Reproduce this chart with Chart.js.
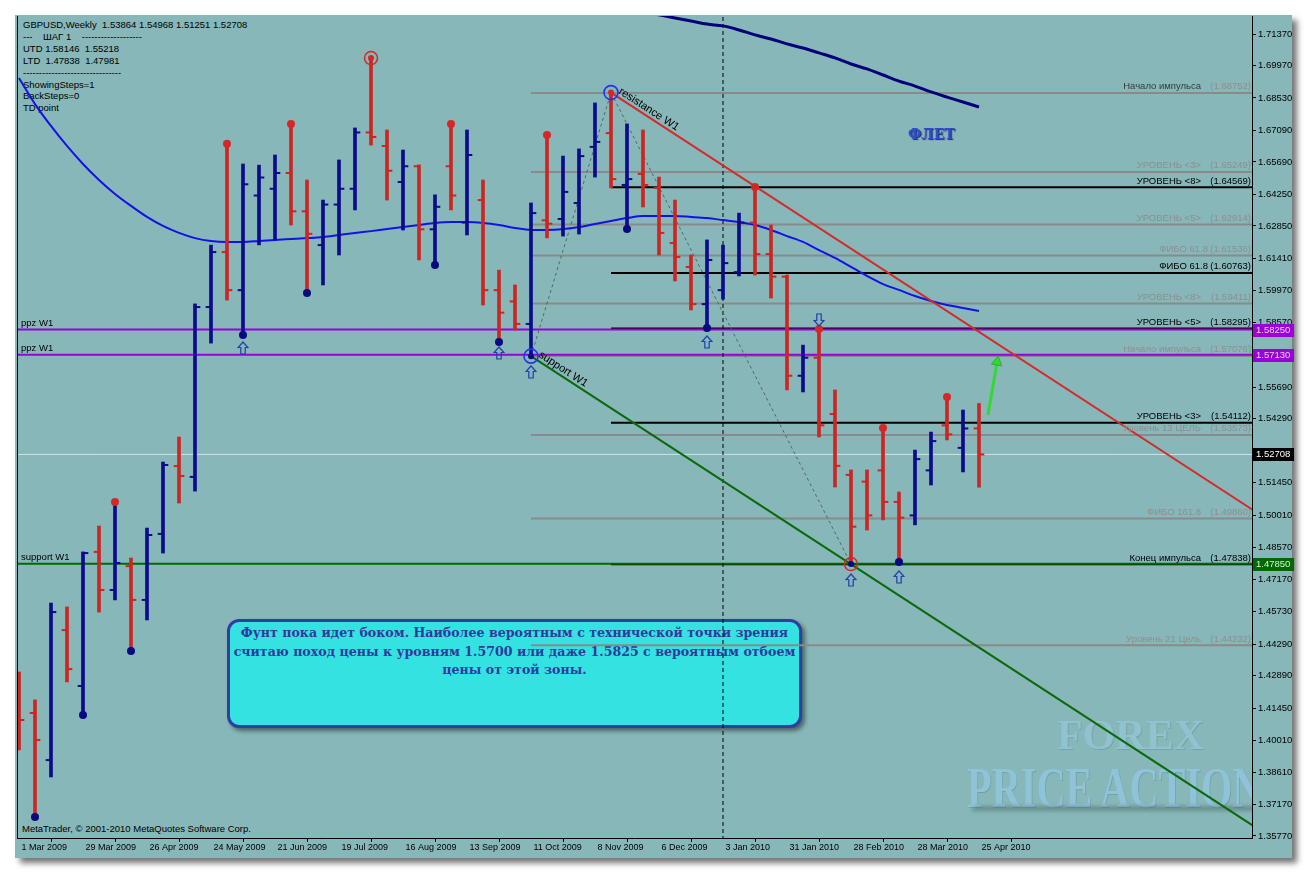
<!DOCTYPE html>
<html><head><meta charset="utf-8">
<script src="https://cdn.jsdelivr.net/npm/chart.js@4.4.1/dist/chart.umd.min.js"></script>
<style>
html,body{margin:0;padding:0;background:#fff;width:1307px;height:872px;overflow:hidden;}
#panel{position:absolute;left:15px;top:15px;width:1277px;height:843px;background:#87B7B8;box-shadow:5px 5px 6px rgba(0,0,0,0.55);}
#wm{position:absolute;left:18px;top:16px;width:1234px;height:822px;overflow:hidden;}
.wmt{position:absolute;font-family:"Liberation Serif";font-weight:bold;line-height:1;white-space:nowrap;}
#info{position:absolute;left:23px;top:19px;font:9.5px "Liberation Sans";line-height:11.9px;white-space:pre;color:#000;}
#copy{position:absolute;left:22px;top:823px;font:9.5px "Liberation Sans";color:#000;white-space:nowrap;}
#note{position:absolute;left:227px;top:619px;width:575px;height:109px;box-sizing:border-box;background:#34E2E2;border:3px solid #2F3F9E;border-radius:12px;box-shadow:3px 3px 4px rgba(0,0,0,0.45);
 font:bold 12.6px "DejaVu Serif";color:#2F3B9C;text-align:center;line-height:18.5px;padding-top:2px;white-space:nowrap;}
#flet{position:absolute;left:908px;top:126px;font:bold 14px "DejaVu Serif";color:#2C50CC;text-shadow:1px 1px 1px #1A2A70;}
canvas{position:absolute;left:0;top:0;}
</style></head>
<body>
<div id="panel"></div>
<div id="wm">
  <div class="wmt" style="left:1039px;top:698px;font-size:42px;color:#90C2D0;text-shadow:1px 1px 0 rgba(90,130,140,0.35);">FOREX</div>
  <div class="wmt" style="left:949px;top:744px;font-size:56px;color:#8EC3D8;transform:scaleX(0.72);transform-origin:0 0;text-shadow:1px 1px 0 rgba(80,120,140,0.35);">PRICE ACTION</div>
  <div style="position:absolute;left:955px;top:790px;width:285px;height:5px;background:rgba(50,70,70,0.35);filter:blur(2px);transform:skewX(-30deg);"></div>
  <div class="wmt" style="left:949px;top:777px;font-size:56px;color:#8EC3D8;opacity:0.35;transform:scaleX(0.72) scaleY(-0.5);transform-origin:0 100%;">PRICE ACTION</div>
</div>
<div id="info">GBPUSD,Weekly  1.53864 1.54968 1.51251 1.52708
---    ШАГ 1    -------------------
UTD 1.58146  1.55218
LTD  1.47838  1.47981
-------------------------------
ShowingSteps=1
BackSteps=0
TD point</div>
<div id="copy">MetaTrader, © 2001-2010 MetaQuotes Software Corp.</div>
<div id="note">Фунт пока идет боком. Наиболее вероятным с технической точки зрения<br>считаю поход цены к уровням 1.5700 или даже 1.5825 с вероятным отбоем<br>цены от этой зоны.</div>
<div id="flet">ФЛЕТ</div>
<canvas id="c" width="1307" height="872"></canvas>
<script>
// ---------------- DATA ----------------
const priceTicks = ['1.71370','1.69970','1.68530','1.67090','1.65690','1.64250','1.62850','1.61410','1.59970','1.58570','1.57130','1.55690','1.54290','1.52850','1.51450','1.50010','1.48570','1.47170','1.45730','1.44290','1.42890','1.41450','1.40010','1.38610','1.37170','1.35770'];
const dateLabels = ['1 Mar 2009','29 Mar 2009','26 Apr 2009','24 May 2009','21 Jun 2009','19 Jul 2009','16 Aug 2009','13 Sep 2009','11 Oct 2009','8 Nov 2009','6 Dec 2009','3 Jan 2010','31 Jan 2010','28 Feb 2010','28 Mar 2010','25 Apr 2010'];
const dateTickWeeks = [0,4,8,12,16,20,24,28,32,36,40,44,48,52,56,60];

const opens  = [1.4260,1.4123,1.3914,1.4491,1.4243,1.4838,1.4669,1.4775,1.4625,1.4918,1.5219,1.5171,1.5925,1.6169,1.6000,1.6420,1.6450,1.6520,1.6350,1.6200,1.6380,1.6450,1.6700,1.6640,1.6480,1.6550,1.6270,1.6550,1.6300,1.6400,1.6000,1.5950,1.5850,1.6310,1.6316,1.6387,1.6636,1.6697,1.6467,1.6516,1.6454,1.6209,1.6103,1.5938,1.6000,1.6080,1.6300,1.6160,1.6060,1.5620,1.5700,1.5450,1.5180,1.5150,1.5200,1.5060,1.5000,1.5200,1.5400,1.5300,1.53864];
const highs  = [1.4305,1.4181,1.4611,1.4594,1.4838,1.4953,1.5060,1.4811,1.4944,1.5237,1.5348,1.5939,1.6200,1.6650,1.6560,1.6555,1.6600,1.6738,1.6489,1.6400,1.6578,1.6720,1.7030,1.6711,1.6622,1.6556,1.6423,1.6738,1.6711,1.6489,1.6089,1.6023,1.6387,1.6689,1.6595,1.6627,1.6831,1.6877,1.6738,1.6711,1.6502,1.6400,1.6156,1.6223,1.6200,1.6342,1.6458,1.6289,1.6067,1.5756,1.5827,1.5557,1.5202,1.5202,1.5388,1.5104,1.5290,1.5370,1.5526,1.5468,1.54968];
const lows   = [1.3959,1.3661,1.3839,1.4261,1.4114,1.4571,1.4625,1.4398,1.4536,1.4833,1.5055,1.5108,1.5765,1.5956,1.5801,1.6201,1.6223,1.6289,1.5987,1.6023,1.6156,1.6356,1.6644,1.6400,1.6267,1.6134,1.6112,1.6356,1.6245,1.5934,1.5770,1.5823,1.5707,1.6232,1.6240,1.6249,1.6502,1.6454,1.6271,1.6369,1.6156,1.6041,1.5912,1.5832,1.5960,1.6063,1.6067,1.5965,1.5557,1.5548,1.5348,1.5126,1.4784,1.4935,1.4980,1.4793,1.4958,1.5135,1.5335,1.5193,1.51251];
const closes = [1.4092,1.4003,1.4571,1.4318,1.4833,1.4669,1.4789,1.4625,1.4913,1.5224,1.5175,1.5925,1.6169,1.6000,1.6470,1.6500,1.6520,1.6350,1.6250,1.6380,1.6450,1.6700,1.6680,1.6530,1.6550,1.6270,1.6370,1.6420,1.6600,1.6000,1.5900,1.5850,1.6342,1.6295,1.6436,1.6595,1.6658,1.6493,1.6493,1.6467,1.6254,1.6147,1.5938,1.6134,1.6120,1.6300,1.6160,1.6060,1.5620,1.5700,1.5400,1.5220,1.4950,1.5000,1.5060,1.4990,1.5250,1.5330,1.5360,1.5386,1.52708];

const fastMA = [1.6942,1.6826,1.6729,1.6640,1.6560,1.6489,1.6427,1.6374,1.6325,1.6285,1.6254,1.6231,1.6218,1.6214,1.6214,1.6218,1.6223,1.6227,1.6231,1.6236,1.6245,1.6254,1.6262,1.6271,1.6280,1.6289,1.6298,1.6302,1.6302,1.6298,1.6289,1.6276,1.6267,1.6267,1.6271,1.6280,1.6294,1.6307,1.6320,1.6329,1.6329,1.6329,1.6325,1.6320,1.6311,1.6302,1.6289,1.6267,1.6240,1.6214,1.6178,1.6143,1.6103,1.6063,1.6027,1.6001,1.5974,1.5952,1.5934,1.5921,1.5907];
const slowMAStart = 39;
const slowMA = [1.7240,1.7222,1.7208,1.7195,1.7181,1.7173,1.7155,1.7133,1.7115,1.7093,1.7075,1.7053,1.7031,1.7004,1.6982,1.6955,1.6928,1.6906,1.6880,1.6857,1.6835,1.6813];

const resistanceLine = [[37,1.6877],[77.1,1.5025]];
const supportLine    = [[32,1.5707],[77.1,1.3624]];
const zigzag         = [[32,1.5707],[37,1.6877],[52,1.4784]];

const highDotWeeks = [6,13,17,27,33,46,50,54,58];
const lowDotWeeks  = [1,4,7,14,18,26,30,38,43,55];
const blueRingHighWeeks = [37], blueRingLowWeeks = [32];
const redRingHighWeeks  = [22], redRingLowWeeks  = [52];
const upArrows   = [[14,1.5743],[30,1.5721],[32,1.5637],[43,1.5770],[52,1.4713],[55,1.4727]];
const downArrows = [[50,1.5868]];
const greenArrow = [[60.56,1.5446],[61.13,1.5681]];

const ppzLevels = [1.58250, 1.57130];
const supportLevel = 1.47850;
const currentPrice = 1.52708;
const cursorWeek = 44;
const grayLevelNames  = ['Начало импульса','УРОВЕНЬ <3>','УРОВЕНЬ <5>','ФИБО 61.8','УРОВЕНЬ <8>','Начало импульса','Уровень 13 ЦЕЛЬ','ФИБО 161.8','Уровень 21 Цель'];
const grayLevelValues = [1.68752,1.65249,1.62914,1.61536,1.59411,1.57076,1.53573,1.49860,1.44232];
const blackLevelNames  = ['УРОВЕНЬ <8>','ФИБО 61.8','УРОВЕНЬ <5>','УРОВЕНЬ <3>','Конец импульса'];
const blackLevelValues = [1.64569,1.60763,1.58295,1.54112,1.47838];
const grayLevelStart = 32, blackLevelStart = 37;

// ---------------- STYLE ----------------
const RED = '#CC2622', NAVY = '#0B0B8C';
const barColors = opens.map((o,i)=> closes[i] < o ? RED : NAVY);
const pt = (a)=>({x:a[0], y:a[1]});

function arrowImg(up){
  const c=document.createElement('canvas'); c.width=12; c.height=14;
  const g=c.getContext('2d');
  g.save(); if(!up){g.translate(0,14); g.scale(1,-1);}
  g.beginPath(); g.moveTo(6,1); g.lineTo(11,6.5); g.lineTo(8.2,6.5); g.lineTo(8.2,13); g.lineTo(3.8,13); g.lineTo(3.8,6.5); g.lineTo(1,6.5); g.closePath();
  g.strokeStyle='#1F3FA8'; g.lineWidth=1.2; g.stroke(); g.restore();
  return c;
}
const upImg = arrowImg(true), downImg = arrowImg(false);

const ds = [];
const hline = (x0,x1,v,color,w,order)=>({type:'line',data:[{x:x0,y:v},{x:x1,y:v}],borderColor:color,borderWidth:w,pointRadius:0,order});
ds.push(hline(-1,78,currentPrice,'#D6E0E0',1,100));
grayLevelValues.forEach(v=>ds.push(hline(grayLevelStart,78,v,'#8A8A8A',2,90)));
blackLevelValues.forEach(v=>ds.push(hline(blackLevelStart,78,v,'#000000',2,85)));
ppzLevels.forEach(v=>ds.push(hline(-1,78,v,'#9A00D8',2,80)));
ds.push(hline(-1,78,supportLevel,'#006A00',2,79));
ds.push({type:'line',data:[{x:cursorWeek,y:1.30},{x:cursorWeek,y:1.80}],borderColor:'#000',borderWidth:1,borderDash:[4,3],pointRadius:0,order:75});
ds.push({type:'line',data:zigzag.map(pt),borderColor:'#556666',borderWidth:1,borderDash:[3,3],pointRadius:0,order:70});
ds.push({type:'line',data:fastMA.map((v,i)=>({x:i,y:v})),borderColor:'#1212E6',borderWidth:2,pointRadius:0,cubicInterpolationMode:'monotone',order:60});
ds.push({type:'line',data:slowMA.map((v,i)=>({x:slowMAStart+i,y:v})),borderColor:'#00007A',borderWidth:3,pointRadius:0,cubicInterpolationMode:'monotone',order:61});
ds.push({type:'line',data:resistanceLine.map(pt),borderColor:'#D42A2A',borderWidth:2,pointRadius:0,order:55});
ds.push({type:'line',data:supportLine.map(pt),borderColor:'#0A6A0A',borderWidth:2,pointRadius:0,order:55});
ds.push({type:'bar',data:highs.map((h,i)=>({x:i,y:[lows[i],h]})),backgroundColor:barColors,barThickness:3,borderWidth:0,order:40});
ds.push({type:'line',showLine:false,data:opens.map((o,i)=>({x:i-0.17,y:o})),pointStyle:'line',pointRadius:2.6,pointBorderWidth:2,pointBorderColor:barColors,order:39});
ds.push({type:'line',showLine:false,data:closes.map((c,i)=>({x:i+0.17,y:c})),pointStyle:'line',pointRadius:2.6,pointBorderWidth:2,pointBorderColor:barColors,order:39});
ds.push({type:'line',showLine:false,data:highDotWeeks.map(i=>({x:i,y:highs[i]})),pointStyle:'circle',pointRadius:4,pointBackgroundColor:'#D42828',pointBorderColor:'#D42828',pointBorderWidth:0,order:20});
ds.push({type:'line',showLine:false,data:lowDotWeeks.map(i=>({x:i,y:lows[i]})),pointStyle:'circle',pointRadius:4,pointBackgroundColor:'#0A0A80',pointBorderColor:'#0A0A80',pointBorderWidth:0,order:20});
ds.push({type:'line',showLine:false,data:redRingHighWeeks.map(i=>({x:i,y:highs[i]})).concat([{x:blueRingHighWeeks[0],y:highs[blueRingHighWeeks[0]]}]),pointStyle:'circle',pointRadius:3,pointBackgroundColor:'#D42828',pointBorderWidth:0,order:19});
ds.push({type:'line',showLine:false,data:redRingLowWeeks.map(i=>({x:i,y:lows[i]})).concat([{x:blueRingLowWeeks[0],y:lows[blueRingLowWeeks[0]]}]),pointStyle:'circle',pointRadius:3,pointBackgroundColor:'#0A0A80',pointBorderWidth:0,order:19});
ds.push({type:'line',showLine:false,data:redRingHighWeeks.map(i=>({x:i,y:highs[i]})).concat(redRingLowWeeks.map(i=>({x:i,y:lows[i]}))),pointStyle:'circle',pointRadius:6.5,pointBackgroundColor:'rgba(0,0,0,0)',pointBorderColor:'#D42828',pointBorderWidth:1.5,order:15});
ds.push({type:'line',showLine:false,data:blueRingHighWeeks.map(i=>({x:i,y:highs[i]})).concat(blueRingLowWeeks.map(i=>({x:i,y:lows[i]}))),pointStyle:'circle',pointRadius:7,pointBackgroundColor:'rgba(0,0,0,0)',pointBorderColor:'#2236E8',pointBorderWidth:1.6,order:15});
ds.push({type:'line',showLine:false,data:upArrows.map(pt),pointStyle:upImg,pointRadius:6,order:10});
ds.push({type:'line',showLine:false,data:downArrows.map(pt),pointStyle:downImg,pointRadius:6,order:10});
ds.push({type:'line',data:greenArrow.map(pt),borderColor:'#34D834',borderWidth:3,pointStyle:'triangle',pointRadius:[0,6],pointRotation:10,pointBackgroundColor:'#34D834',pointBorderColor:'#2AB02A',pointBorderWidth:1,order:5});

const F = '"Liberation Sans"';
const annot = {
  id:'annot',
  afterDatasetsDraw(chart){
    const {ctx, chartArea:a, scales:{x,y}} = chart;
    ctx.save();
    ctx.font = '9.5px '+F; ctx.textBaseline='bottom';
    const lvl=(name,val,col,ncol)=>{
      const py=y.getPixelForValue(val);
      ctx.textAlign='right'; ctx.fillStyle=col;
      ctx.fillText('('+val.toFixed(5)+')', a.right-1, py-1.5);
      const nr = name.indexOf('ФИБО 61')===0 ? a.right-44 : a.right-51;
      ctx.fillStyle=ncol; ctx.fillText(name, nr, py-1.5);
    };
    grayLevelNames.forEach((n,i)=>lvl(n,grayLevelValues[i],'#8E8E8E', i===0?'#3A3A3A':'#8E8E8E'));
    blackLevelNames.forEach((n,i)=>lvl(n,blackLevelValues[i],'#000','#000'));
    ctx.textAlign='left'; ctx.fillStyle='#000';
    ppzLevels.forEach(v=>ctx.fillText('ppz W1', a.left+3, y.getPixelForValue(v)-1.5));
    ctx.fillText('support W1', a.left+3, y.getPixelForValue(supportLevel)-1.5);
    const rot=(line,txt)=>{
      const x0=x.getPixelForValue(line[0][0]), y0=y.getPixelForValue(line[0][1]);
      const x1=x.getPixelForValue(line[1][0]), y1=y.getPixelForValue(line[1][1]);
      ctx.save(); ctx.translate(x0,y0); ctx.rotate(Math.atan2(y1-y0,x1-x0));
      ctx.font='11px '+F; ctx.fillStyle='#000'; ctx.textAlign='left'; ctx.textBaseline='bottom';
      ctx.fillText(txt, 6, -1); ctx.restore();
    };
    rot(resistanceLine,'resistance W1');
    rot(supportLine,'support W1');
    ctx.restore();
  },
  afterDraw(chart){
    const {ctx, chartArea:a, scales:{y}} = chart;
    ctx.save();
    ctx.fillStyle='#000'; ctx.fillRect(a.left-1, a.top, 1, a.bottom-a.top+1);
    ctx.font='9.5px '+F; ctx.textBaseline='middle'; ctx.textAlign='left';
    const box=(val,bg,fg)=>{
      const py=Math.round(y.getPixelForValue(val));
      ctx.fillStyle=bg; ctx.fillRect(a.right+1, py-6, 41, 13);
      ctx.fillStyle=fg; ctx.fillText(val.toFixed(5), a.right+4, py+0.5);
    };
    ppzLevels.forEach(v=>box(v,'#9A00D8','#E8D0F8'));
    box(currentPrice,'#000000','#FFFFFF');
    box(supportLevel,'#006A00','#D8F0D8');
    ctx.restore();
  }
};

new Chart(document.getElementById('c'), {
  type:'line',
  data:{datasets:ds},
  options:{
    responsive:false, animation:false, events:[],
    layout:{padding:{left:18,top:16,right:5,bottom:14}},
    plugins:{legend:{display:false},tooltip:{enabled:false}},
    scales:{
      x:{type:'linear',min:-0.0625,max:77.0625,offset:false,
        afterBuildTicks(s){s.ticks=dateTickWeeks.map(v=>({value:v}));},
        afterFit(s){s.height=20;s.paddingLeft=0;s.paddingRight=0;},
        grid:{drawOnChartArea:false,drawTicks:true,tickLength:4,color:'#000'},
        border:{display:true,color:'#000',width:1},
        ticks:{align:'start',padding:0,maxRotation:0,autoSkip:false,color:'#000',font:{family:'Liberation Sans',size:9},
          callback:(v)=>{const k=dateTickWeeks.indexOf(v);return k<0?'':' '+dateLabels[k];}}
      },
      y:{type:'linear',position:'right',min:1.356812,max:1.721694,
        afterBuildTicks(s){s.ticks=priceTicks.map(v=>({value:parseFloat(v)}));},
        afterFit(s){s.width=50;s.paddingTop=0;s.paddingBottom=0;},
        grid:{drawOnChartArea:false,drawTicks:true,tickLength:4,color:'#000'},
        border:{display:true,color:'#000',width:1},
        ticks:{padding:2,autoSkip:false,color:'#000',font:{family:'Liberation Sans',size:9.5},
          callback:(v,i)=>priceTicks[i]}
      }
    }
  },
  plugins:[annot]
});
</script>
</body></html>
